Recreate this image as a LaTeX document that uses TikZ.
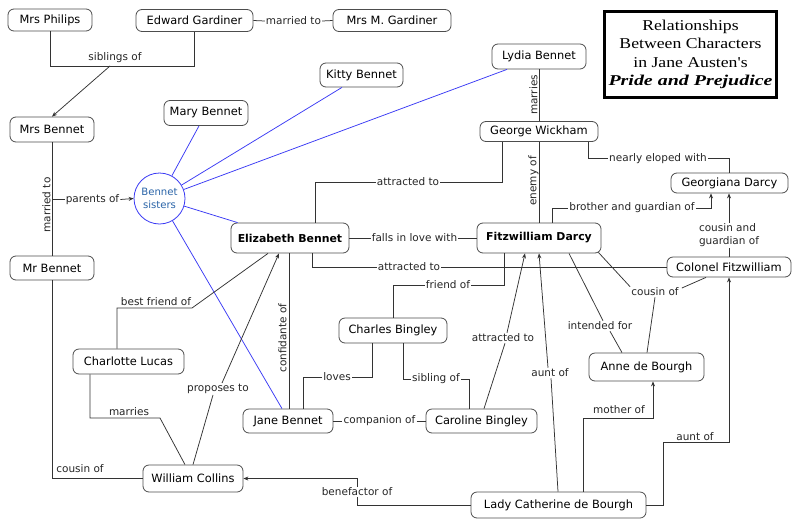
\documentclass[tikz,border=0pt]{standalone}
\usepackage{fontspec}
\setmainfont{DejaVu Sans}
\newfontfamily\titlefont[FakeStretch=1.18]{Liberation Serif}
\newfontfamily\titlebi[FakeStretch=1.33]{Liberation Serif}
\usetikzlibrary{arrows.meta}
\definecolor{lnk}{HTML}{333333}
\definecolor{bord}{HTML}{4D4D4D}
\definecolor{sisblue}{HTML}{3A3AF5}
\definecolor{sistext}{HTML}{2A64A8}
\tikzset{
 concept/.style={draw=bord, line width=0.8pt, rounded corners=6pt, fill=white, inner sep=0pt, font=\fontsize{11.4}{13}\selectfont, align=center},
 keycon/.style={concept, font=\fontsize{10.9}{12}\selectfont\bfseries},
 lbl/.style={inner sep=1pt, font=\fontsize{10.5}{13}\selectfont, text=black!85},
 link/.style={draw=lnk, line width=0.75pt},
 arr/.style={link, -{Stealth[length=5pt,width=4pt]}},
 bluelink/.style={draw=sisblue, line width=0.75pt},
}
\begin{document}
\begin{tikzpicture}[x=1pt,y=-1pt]
\fill[white] (0,0) rectangle (799,530);
\useasboundingbox (0,0) rectangle (799,530);
% concepts
\node[concept, minimum width=84, minimum height=22] (mph) at (50,20) {Mrs Philips};
\node[concept, minimum width=117, minimum height=22] (eg) at (194.5,20.5) {Edward Gardiner};
\node[concept, minimum width=118, minimum height=22] (mmg) at (392,20.5) {Mrs M. Gardiner};
\node[concept, minimum width=83, minimum height=24] (kitty) at (361.5,75) {Kitty Bennet};
\node[concept, minimum width=84, minimum height=25] (mary) at (206,113) {Mary Bennet};
\node[concept, minimum width=84, minimum height=25] (mrsb) at (52,129.5) {Mrs Bennet};
\node[concept, minimum width=94, minimum height=25] (lydia) at (539,56.5) {Lydia Bennet};
\node[concept, minimum width=118, minimum height=20] (gw) at (539,131.5) {George Wickham};
\node[concept, minimum width=117, minimum height=20] (gd) at (729.5,183) {Georgiana Darcy};
\node[circle, draw=sisblue, line width=0.8pt, minimum size=51, inner sep=0pt, text=sistext, font=\fontsize{10.1}{13}\selectfont, align=center] (sis) at (159.5,198.5) {Bennet\\sisters};
\node[keycon, minimum width=118, minimum height=30] (eb) at (290,238) {Elizabeth Bennet};
\node[concept, minimum width=84, minimum height=24] (mrb) at (52,268) {Mr Bennet};
\node[keycon, minimum width=124, minimum height=30] (fd) at (539,238) {Fitzwilliam Darcy};
\node[concept, minimum width=124, minimum height=20] (cf) at (729,267) {Colonel Fitzwilliam};
\node[concept, minimum width=108, minimum height=25] (cb) at (393,330.5) {Charles Bingley};
\node[concept, minimum width=111, minimum height=25] (cl) at (128.5,361.5) {Charlotte Lucas};
\node[concept, minimum width=115, minimum height=28] (anne) at (646.5,367) {Anne de Bourgh};
\node[concept, minimum width=90, minimum height=24] (jb) at (288,421) {Jane Bennet};
\node[concept, minimum width=111, minimum height=24] (carb) at (481.5,421) {Caroline Bingley};
\node[concept, minimum width=100, minimum height=27] (wc) at (193,478.5) {William Collins};
\node[concept, minimum width=175, minimum height=26] (lc) at (558.5,505) {Lady Catherine de Bourgh};
% title
\node[draw=black, line width=2.6pt, minimum width=172, minimum height=86, inner sep=0pt, align=center, font=\titlefont\fontsize{15}{18.3}\selectfont] (title) at (690.5,54.5) {Relationships\\Between Characters\\in Jane Austen's\\{\titlebi\bfseries\itshape Pride and Prejudice}};
% labels
\node[lbl] (lmar1) at (293.5,21) {married to};
\node[lbl] (lsib) at (115,58) {siblings of};
\coordinate (sibA) at (50,66);
\coordinate (sibB) at (194.5,66);
\coordinate (sibM) at (110,66);
\node[lbl, rotate=90] (lmar2) at (46.5,205) {married to};
\coordinate (par0) at (52,199.5);
\node[lbl] (lpar) at (92.5,199.5) {parents of};
\node[lbl, rotate=90] (lmarries) at (533.5,95) {marries};
\node[lbl, rotate=90] (lenemy) at (533.5,181) {enemy of};
\node[lbl] (latt1) at (408,182) {attracted to};
\node[lbl] (lfall) at (414.5,238) {falls in love with};
\node[lbl] (latt2) at (409,267) {attracted to};
\node[lbl] (lbro) at (632,208) {brother and guardian of};
\node[lbl] (lnear) at (658,158.5) {nearly eloped with};
\node[lbl, align=left] (lcg) at (729,235.5) {cousin and\\guardian of};
\node[lbl] (lcous) at (655,292) {cousin of};
\node[lbl] (lint) at (600,326) {intended for};
\node[lbl] (lfr) at (448,285) {friend of};
\node[lbl] (llov) at (337,377) {loves};
\node[lbl] (lsib2) at (436,379) {sibling of};
\node[lbl] (lcomp) at (379.5,421) {companion of};
\node[lbl, rotate=90] (lconf) at (282.5,338) {confidante of};
\node[lbl] (latt3) at (503,338) {attracted to};
\node[lbl] (launt1) at (550,373) {aunt of};
\node[lbl] (lmoth) at (619,410) {mother of};
\node[lbl] (launt2) at (695,437) {aunt of};
\node[lbl] (lben) at (357,492) {benefactor of};
\node[lbl] (lcous2) at (80,469) {cousin of};
\node[lbl] (lmarr3) at (129,412) {marries};
\node[lbl] (lprop) at (218,389) {proposes to};
\node[lbl] (lbf) at (156,302) {best friend of};
\coordinate (m1) at (583,418);
\coordinate (m2) at (653,418);
\coordinate (a1) at (663,505);
\coordinate (a2) at (663,442);
\coordinate (a3) at (729,442);
\coordinate (mr1) at (160,418);
\coordinate (bf1) at (192,308);
% connectors
\draw[link] (eg.east) -- (lmar1.west);
\draw[link] (lmar1.east) -- (mmg.west);
\draw[link] (mph.south) -- (sibA) -- (sibB) -- (eg.south);
\draw[arr] (sibM) -- (mrsb.north);
\draw[link] (mrsb.south) -- (mrb.north);
\draw[link] (par0) -- (lpar.west);
\draw[arr] (lpar.east) -- (sis.west);
\draw[bluelink] (sis) -- ([xshift=-7]mary.south);
\draw[bluelink] (sis) -- ([xshift=-19.5]kitty.south);
\draw[bluelink] (sis) -- ([xshift=-32]lydia.south);
\draw[bluelink] (sis) -- ([xshift=7]eb.north west);
\draw[bluelink] (sis) -- ([xshift=-6]jb.north);
\draw[link] (lydia.south) -- (gw.north);
\draw[link] (gw.south) -- (fd.north);
\draw[link] ([xshift=25]eb.north) |- (latt1.west);
\draw[link] (latt1.east) -| ([xshift=-37]gw.south);
\draw[link] (eb.east) -- (lfall.west);
\draw[link] (lfall.east) -- (fd.west);
\draw[link] ([xshift=22]eb.south) |- (latt2.west);
\draw[link] (latt2.east) -- (cf.west);
\draw[link] ([xshift=13]fd.north) |- (lbro.west);
\draw[arr] (lbro.east) -| ([xshift=-18.5]gd.south);
\draw[link] ([xshift=49]gw.south) |- (lnear.west);
\draw[link] (lnear.east) -| (gd.north);
\draw[link] (cf.north) -- (lcg.south);
\draw[arr] (lcg.north) -- ([xshift=-0.5]gd.south);
\draw[link] ([shift={(-3,-1)}]fd.south east) -- (lcous.north west);
\draw[link] ([xshift=-23]cf.south) -- ([shift={(2,-4)}]lcous.east);
\draw[link] (lcous.south) -- ([xshift=0.5]anne.north);
\draw[link] ([xshift=30]fd.south) -- ([xshift=3]lint.north);
\draw[link] ([xshift=10]lint.south) -- ([xshift=-24.5]anne.north);
\draw[link] ([xshift=-35]fd.south) |- (lfr.east);
\draw[link] (lfr.west) -| (cb.north);
\draw[link] ([xshift=-21]cb.south) |- (llov.east);
\draw[link] (llov.west) -| ([xshift=15]jb.north);
\draw[link] ([xshift=10]cb.south) |- (lsib2.west);
\draw[link] (lsib2.east) -| ([xshift=-12.5]carb.north);
\draw[link] (jb.east) -- (lcomp.west);
\draw[link] (lcomp.east) -- (carb.west);
\draw[link] ([xshift=-1]eb.south) -- ([xshift=1]jb.north);
\draw[link] ([xshift=2.5]carb.north) -- ([xshift=2]latt3.south);
\draw[arr] ([xshift=4]latt3.north) -- ([xshift=-14]fd.south);
\draw[link] ([xshift=-0.5]lc.north) -- ([xshift=1]launt1.south);
\draw[arr] ([xshift=-2]launt1.north) -- (fd.south);
\draw[arr] ([xshift=24.5]lc.north) -- (m1) -- (m2) -- ([xshift=6.5]anne.south);
\draw[arr] (lc.east) -- (a1) -- (a2) -- (a3) -- (cf.south);
\draw[link] (lc.west) -| (lben.south);
\draw[arr] (lben.north) |- (wc.east);
\draw[link] (mrb.south) |- (wc.west);
\draw[link] ([xshift=-38.5]cl.south) |- (mr1) -- ([xshift=-8]wc.north);
\draw[link] (wc.north) -- ([xshift=-5]lprop.south);
\draw[arr] ([xshift=4]lprop.north) -- ([xshift=-11]eb.south);
\draw[link] ([xshift=-11.5]cl.north) |- (bf1) -- ([xshift=-22]eb.south);
\end{tikzpicture}
\end{document}
